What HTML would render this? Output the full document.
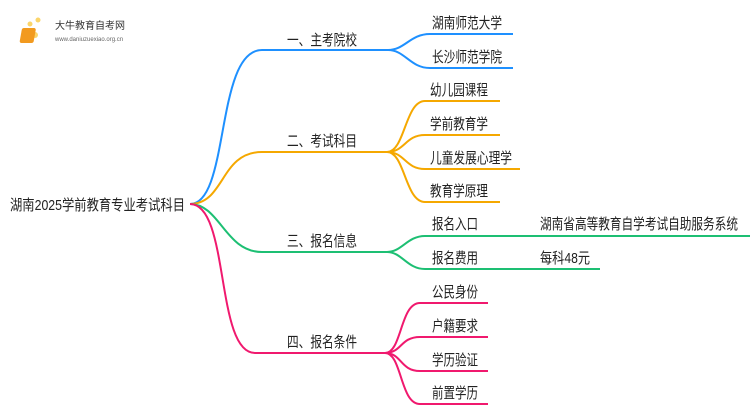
<!DOCTYPE html>
<html><head><meta charset="utf-8"><style>
body{margin:0;background:#fff;width:750px;height:410px;overflow:hidden}
svg text{font-family:"Liberation Sans","Noto Sans CJK SC",sans-serif;font-size:15px;fill:#222}
</style></head><body>
<svg width="750" height="410" viewBox="0 0 750 410" xmlns="http://www.w3.org/2000/svg">
<g fill="none" stroke-width="2">
<path d="M190,204 C230,204 215,50 262,50 L388,50" stroke="#1e90ff"/>
<path d="M388,50 C405,50 410,34 430,34 L513,34 M388,50 C405,50 410,68 430,68 L513,68" stroke="#1e90ff"/>
<path d="M190,204 C225,204 220,152 262,152 L387,152" stroke="#f5a800"/>
<path d="M387,152 C405,152 405,101 425,101 L500,101 M387,152 C405,152 405,135 425,135 L500,135 M387,152 C405,152 405,169 425,169 L520,169 M387,152 C405,152 405,202 425,202 L500,202" stroke="#f5a800"/>
<path d="M190,204 C220,204 225,252 262,252 L387,252" stroke="#1dbf73"/>
<path d="M387,252 C402,252 407,236 425,236 L750,236 M387,252 C402,252 407,269 425,269 L600,269" stroke="#1dbf73"/>
<path d="M190,204 C230,204 215,353 255,353 L385,353" stroke="#f0196e"/>
<path d="M385,353 C402,353 400,303 420,303 L488,303 M385,353 C402,353 400,337 420,337 L488,337 M385,353 C402,353 400,371 420,371 L488,371 M385,353 C402,353 400,404 420,404 L488,404" stroke="#f0196e"/>
</g>
<circle cx="35" cy="35" r="3" fill="#fbd56a"/><circle cx="30" cy="24" r="2.5" fill="#fbd56a"/><circle cx="38" cy="20" r="2.5" fill="#fbd56a"/>
<rect x="27" y="28" width="14" height="15" rx="2" fill="#f29a1f" transform="skewX(-10)"/>
<text x="55" y="29" style="font-size:10px;fill:#333">大牛教育自考网</text>
<text x="55" y="41" style="font-size:6px;fill:#666">www.daniuzuexiao.org.cn</text>
<text x="10" y="210" textLength="175" lengthAdjust="spacingAndGlyphs">湖南2025学前教育专业考试科目</text>
<text x="287" y="45" textLength="70" lengthAdjust="spacingAndGlyphs">一、主考院校</text>
<text x="287" y="146" textLength="70" lengthAdjust="spacingAndGlyphs">二、考试科目</text>
<text x="287" y="246" textLength="70" lengthAdjust="spacingAndGlyphs">三、报名信息</text>
<text x="287" y="347" textLength="70" lengthAdjust="spacingAndGlyphs">四、报名条件</text>
<text x="432" y="28" textLength="70" lengthAdjust="spacingAndGlyphs">湖南师范大学</text>
<text x="432" y="62" textLength="70" lengthAdjust="spacingAndGlyphs">长沙师范学院</text>
<text x="430" y="95" textLength="58" lengthAdjust="spacingAndGlyphs">幼儿园课程</text>
<text x="430" y="129" textLength="58" lengthAdjust="spacingAndGlyphs">学前教育学</text>
<text x="430" y="163" textLength="82" lengthAdjust="spacingAndGlyphs">儿童发展心理学</text>
<text x="430" y="196" textLength="58" lengthAdjust="spacingAndGlyphs">教育学原理</text>
<text x="432" y="229" textLength="46" lengthAdjust="spacingAndGlyphs">报名入口</text>
<text x="540" y="229" textLength="198" lengthAdjust="spacingAndGlyphs">湖南省高等教育自学考试自助服务系统</text>
<text x="432" y="263" textLength="46" lengthAdjust="spacingAndGlyphs">报名费用</text>
<text x="540" y="263" textLength="50" lengthAdjust="spacingAndGlyphs">每科48元</text>
<text x="432" y="297" textLength="46" lengthAdjust="spacingAndGlyphs">公民身份</text>
<text x="432" y="331" textLength="46" lengthAdjust="spacingAndGlyphs">户籍要求</text>
<text x="432" y="365" textLength="46" lengthAdjust="spacingAndGlyphs">学历验证</text>
<text x="432" y="398" textLength="46" lengthAdjust="spacingAndGlyphs">前置学历</text>
</svg>
</body></html>
